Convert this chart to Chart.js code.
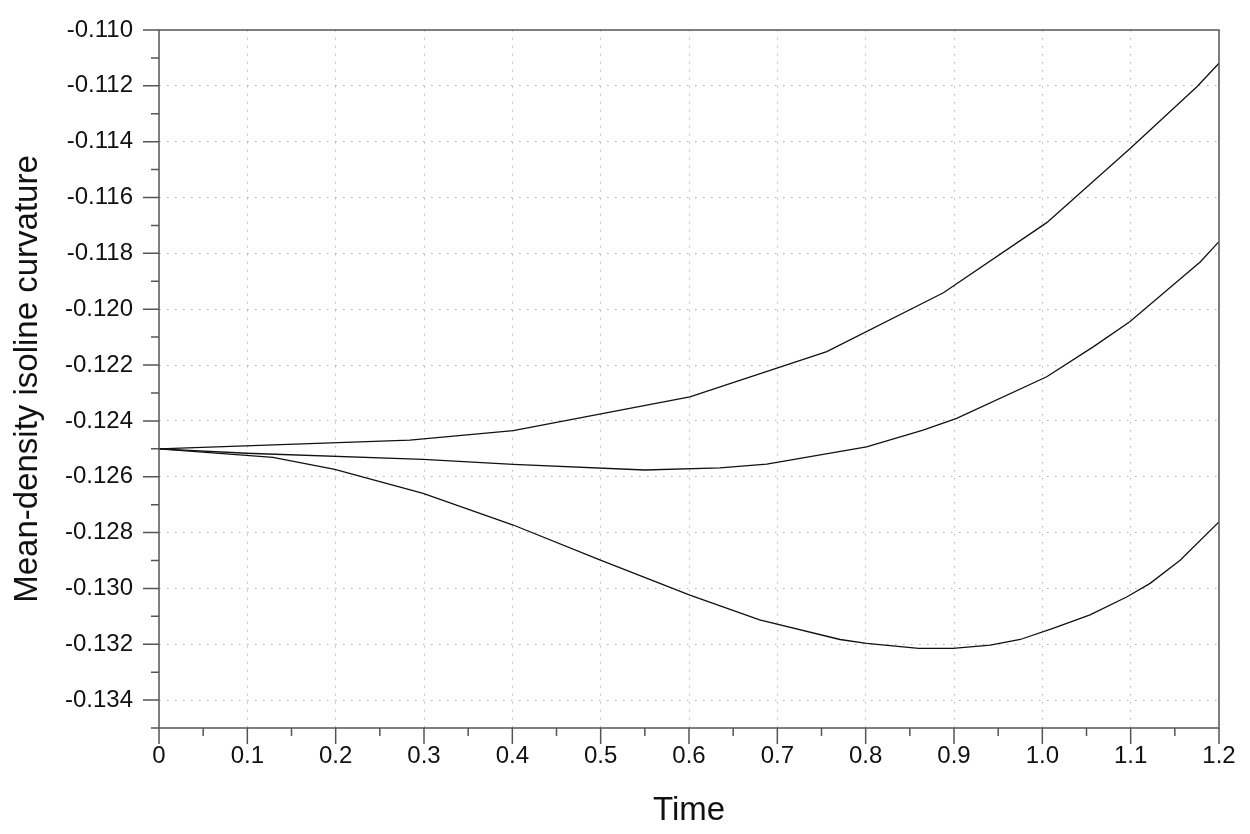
<!DOCTYPE html>
<html>
<head>
<meta charset="utf-8">
<title>Mean-density isoline curvature</title>
<script src="https://cdn.jsdelivr.net/npm/chart.js@4"></script>
<style>
    body { margin: 0; background: #fff; }
    #chart { display: block; }
</style>
</head>
<body>
<canvas id="chart" width="1250" height="834"></canvas>
<script>
// Data (three runs, same start value)
const timeUpper = [0, 0.284, 0.401, 0.601, 0.756, 0.888, 1.005, 1.1, 1.175, 1.2];
const curvUpper = [-0.1250, -0.12469, -0.12435, -0.12314, -0.12152, -0.11941, -0.11690, -0.11423, -0.11203, -0.11119];

const timeMiddle = [0, 0.099, 0.299, 0.401, 0.550, 0.635, 0.688, 0.801, 0.865, 0.903, 1.005, 1.058, 1.099, 1.179, 1.2];
const curvMiddle = [-0.1250, -0.12516, -0.12538, -0.12556, -0.12576, -0.12568, -0.12555, -0.12493, -0.12433, -0.12391, -0.12242, -0.12134, -0.12045, -0.11830, -0.11758];

const timeLower = [0, 0.129, 0.199, 0.299, 0.401, 0.499, 0.601, 0.680, 0.771, 0.801, 0.860, 0.899, 0.941, 0.975, 1.012, 1.054, 1.096, 1.122, 1.156, 1.2];
const curvLower = [-0.1250, -0.12531, -0.12574, -0.12660, -0.12773, -0.12898, -0.13024, -0.13113, -0.13183, -0.13197, -0.13215, -0.13215, -0.13203, -0.13183, -0.13143, -0.13095, -0.13030, -0.12982, -0.12899, -0.12762];

// Axis ranges / tick steps
const xRange = [0, 1.2];
const xStep = 0.05;      // minor tick step, labels every 0.1
const yRange = [-0.135, -0.110];
const yStep = 0.001;     // minor tick step, labels every 0.002

const FONT = "'Liberation Sans', Arial, Helvetica, sans-serif";
const AXIS_COLOR = '#555';
const GRID_COLOR = '#b4b4b4';

function toPoints(xs, ys) {
    return xs.map((x, i) => ({ x: x, y: ys[i] }));
}

function isMajorX(v) { return Math.round(v * 100) % 10 === 0; }
function isMajorY(v) { return Math.round(v * 1000) % 2 === 0; }

function lineSet(xs, ys) {
    return {
        data: toPoints(xs, ys),
        borderColor: '#111',
        borderWidth: 1.3,
        pointRadius: 0,
        tension: 0,
        fill: false
    };
}

// Frame and tick marks drawn the way the original plot has them
const axisFrame = {
    id: 'axisFrame',
    afterDraw(chart) {
        const ctx = chart.ctx;
        const a = chart.chartArea;
        const xs = chart.scales.x;
        const ys = chart.scales.y;
        ctx.save();
        ctx.strokeStyle = AXIS_COLOR;
        ctx.lineWidth = 1.5;
        ctx.beginPath();
        ctx.rect(a.left, a.top, a.right - a.left, a.bottom - a.top);
        ctx.stroke();

        ctx.beginPath();
        xs.ticks.forEach(t => {
            const px = xs.getPixelForValue(t.value);
            const len = isMajorX(t.value) ? 16 : 8;
            ctx.moveTo(px, a.bottom);
            ctx.lineTo(px, a.bottom + len);
        });
        ys.ticks.forEach(t => {
            const py = ys.getPixelForValue(t.value);
            const len = isMajorY(t.value) ? 16 : 8;
            ctx.moveTo(a.left, py);
            ctx.lineTo(a.left - len, py);
        });
        ctx.stroke();
        ctx.restore();
    }
};

const ctx = document.getElementById('chart').getContext('2d');
const chart = new Chart(ctx, {
    type: 'line',
    data: {
        datasets: [
            lineSet(timeUpper, curvUpper),
            lineSet(timeMiddle, curvMiddle),
            lineSet(timeLower, curvLower)
        ]
    },
    options: {
        responsive: false,
        animation: false,
        events: [],
        layout: { padding: { top: 30, right: 31, left: 0, bottom: 0 } },
        plugins: {
            legend: { display: false },
            tooltip: { enabled: false }
        },
        scales: {
            x: {
                type: 'linear',
                min: xRange[0],
                max: xRange[1],
                afterFit(scale) {
                    scale.height = 106;
                    scale.paddingLeft = 0;
                    scale.paddingRight = 0;
                },
                border: { display: false, dash: [1.5, 6.5] },
                grid: {
                    drawTicks: false,
                    lineWidth: 1,
                    color: c => {
                        const v = c.tick ? c.tick.value : 0;
                        if (!isMajorX(v) || v <= xRange[0] + 1e-9 || v >= xRange[1] - 1e-9) return 'rgba(0,0,0,0)';
                        return GRID_COLOR;
                    }
                },
                ticks: {
                    stepSize: xStep,
                    autoSkip: false,
                    maxRotation: 0,
                    padding: 14,
                    color: '#111',
                    font: { family: FONT, size: 24 },
                    callback: v => {
                        const n = Math.round(v * 100);
                        if (n % 10 !== 0) return '';
                        return n === 0 ? '0' : (n / 100).toFixed(1);
                    }
                },
                title: {
                    display: true,
                    text: 'Time',
                    color: '#111',
                    font: { family: FONT, size: 33 },
                    padding: { top: 0, bottom: 3 }
                }
            },
            y: {
                type: 'linear',
                min: yRange[0],
                max: yRange[1],
                afterFit(scale) {
                    scale.width = 159;
                    scale.paddingTop = 0;
                    scale.paddingBottom = 0;
                },
                border: { display: false, dash: [1.5, 6.5] },
                grid: {
                    drawTicks: false,
                    lineWidth: 1,
                    color: c => {
                        const v = c.tick ? c.tick.value : 0;
                        if (!isMajorY(v) || v <= yRange[0] + 1e-9 || v >= yRange[1] - 1e-9) return 'rgba(0,0,0,0)';
                        return GRID_COLOR;
                    }
                },
                ticks: {
                    stepSize: yStep,
                    autoSkip: false,
                    padding: 26,
                    color: '#111',
                    font: { family: FONT, size: 24 },
                    callback: v => isMajorY(v) ? (Math.round(v * 1000) / 1000).toFixed(3) : ''
                },
                title: {
                    display: true,
                    text: 'Mean-density isoline curvature',
                    color: '#111',
                    font: { family: FONT, size: 33 },
                    padding: { top: 8, bottom: 0 }
                }
            }
        }
    },
    plugins: [axisFrame]
});
</script>
</body>
</html>
